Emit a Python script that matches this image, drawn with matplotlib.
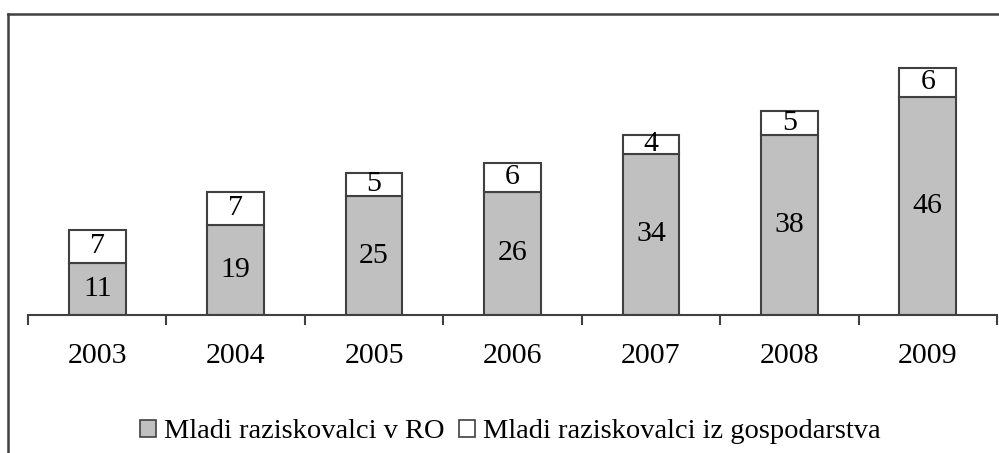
import matplotlib
matplotlib.use('Agg')
from matplotlib import pyplot as plt
from matplotlib.lines import Line2D
from matplotlib.patches import Patch

years = ['2003', '2004', '2005', '2006', '2007', '2008', '2009']
ro = [11, 19, 25, 26, 34, 38, 46]
gosp = [7, 7, 5, 6, 4, 5, 6]

grey = '#c0c0c0'
edge = '#404040'

plt.rcParams['font.family'] = ['Liberation Serif', 'DejaVu Serif']

fig = plt.figure(figsize=(9.99, 4.53), dpi=100)
ax = fig.add_axes([0.028, 1 - 315 / 453., 0.97, 285 / 453.])

x = list(range(len(years)))
w = 0.41
b1 = ax.bar(x, ro, w, color=grey, edgecolor=edge, linewidth=1.5)
b2 = ax.bar(x, gosp, w, bottom=ro, color='white', edgecolor=edge, linewidth=1.5)

for i in x:
    ax.text(i, ro[i] / 2., str(ro[i]), ha='center', va='center', fontsize=21.5)
    ax.text(i, ro[i] + gosp[i] / 2., str(gosp[i]), ha='center', va='center', fontsize=21.5)

ax.set_xlim(-0.5, len(years) - 0.5)
ax.set_ylim(0, 60)
ax.set_yticks([])
for s in ['top', 'right', 'left']:
    ax.spines[s].set_visible(False)
ax.spines['bottom'].set_color(edge)
ax.spines['bottom'].set_linewidth(1.5)

ax.set_xticks(x)
ax.set_xticklabels(years, fontsize=21.5)
ax.tick_params(axis='x', which='major', length=0, pad=20)
ax.set_xticks([i - 0.5 for i in range(len(years) + 1)], minor=True)
ax.tick_params(axis='x', which='minor', length=7, width=1.5, color=edge, direction='out')

handles = [Patch(facecolor=grey, edgecolor=edge, linewidth=1.2),
           Patch(facecolor='white', edgecolor=edge, linewidth=1.2)]
fig.legend(handles, ['Mladi raziskovalci v RO', 'Mladi raziskovalci iz gospodarstva'],
           loc='center', bbox_to_anchor=(0.511, 1 - 432 / 453.), ncol=2, frameon=False,
           fontsize=20.5, handlelength=0.55, handleheight=0.55, handletextpad=0.3,
           columnspacing=0.5, borderpad=0)

# outer chart frame (only top and left visible)
fig.add_artist(Line2D([8 / 999., 1.0], [1 - 14 / 453., 1 - 14 / 453.], color=edge, linewidth=1.8,
                      transform=fig.transFigure))
fig.add_artist(Line2D([8 / 999., 8 / 999.], [0, 1 - 14 / 453.], color=edge, linewidth=1.8,
                      transform=fig.transFigure))

plt.savefig('out.png', dpi=100)
